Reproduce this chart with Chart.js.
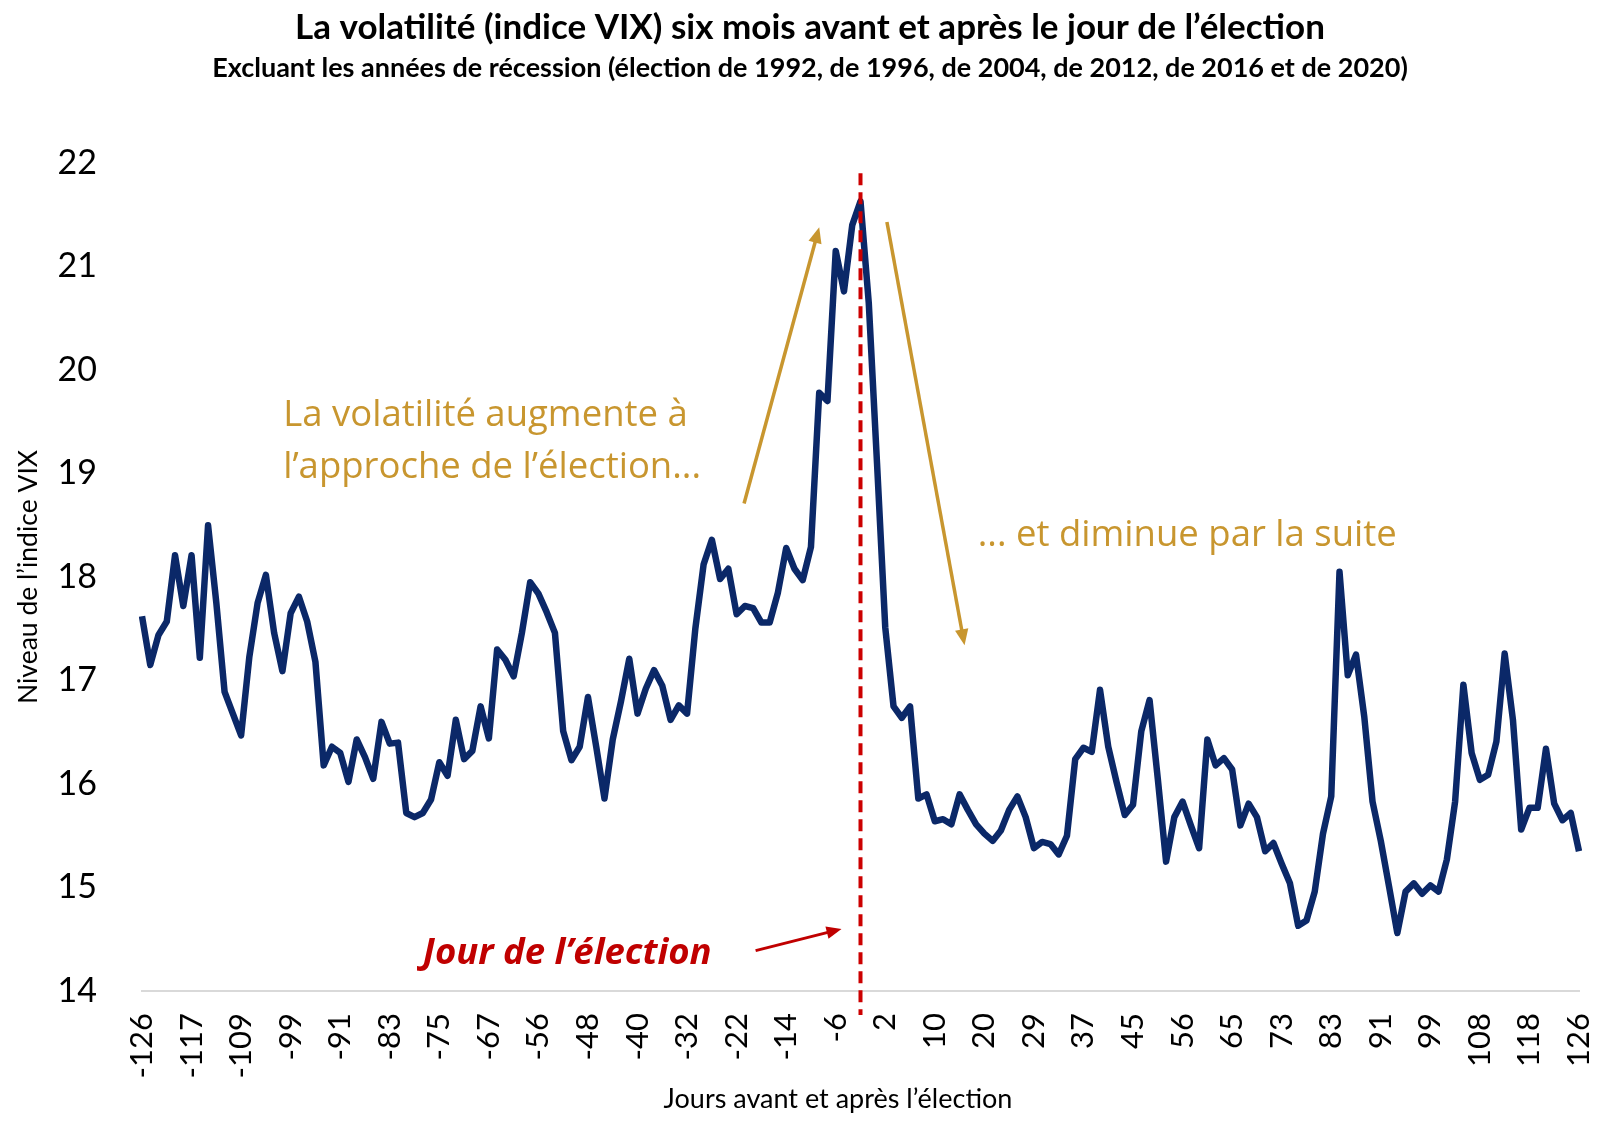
<!DOCTYPE html>
<html lang="fr">
<head>
<meta charset="utf-8">
<title>VIX autour du jour de l'élection</title>
<script src="https://cdn.jsdelivr.net/npm/chart.js@4.4.1/dist/chart.umd.min.js"></script>
<style>
  html, body { margin: 0; padding: 0; background: #ffffff; }
  #wrap { width: 1600px; height: 1137px; }
</style>
</head>
<body>
<div id="wrap"><canvas id="vixChart" width="1600" height="1137"></canvas></div>
<script>
// tick labels shown on the x axis (one every 6 points)
const tickLabels = [
  -126, -117, -109, -99, -91, -83, -75, -67, -56, -48, -40, -32, -22, -14, -6,
  2, 10, 20, 29, 37, 45, 56, 65, 73, 83, 91, 99, 108, 118, 126,
];
const labelEvery = 6;

// average VIX level
const vixLevels = [
  17.62, 17.15, 17.44, 17.57, 18.21, 17.72, 18.21, 17.22, 18.50, 17.75,
  16.89, 16.68, 16.47, 17.23, 17.75, 18.02, 17.46, 17.09, 17.65, 17.81,
  17.57, 17.18, 16.18, 16.36, 16.30, 16.02, 16.43, 16.26, 16.05, 16.60,
  16.39, 16.40, 15.72, 15.68, 15.72, 15.85, 16.21, 16.08, 16.62, 16.24,
  16.32, 16.75, 16.44, 17.30, 17.20, 17.04, 17.46, 17.95, 17.84, 17.66,
  17.46, 16.51, 16.23, 16.36, 16.84, 16.36, 15.86, 16.43, 16.80, 17.21,
  16.68, 16.92, 17.10, 16.95, 16.62, 16.76, 16.68, 17.50, 18.12, 18.36,
  17.98, 18.08, 17.64, 17.72, 17.70, 17.56, 17.56, 17.85, 18.28, 18.08,
  17.97, 18.29, 19.78, 19.70, 21.15, 20.76, 21.40, 21.63, 20.65, 19.10,
  17.51, 16.75, 16.64, 16.75, 15.86, 15.90, 15.64, 15.66, 15.61, 15.90,
  15.75, 15.61, 15.52, 15.45, 15.55, 15.75, 15.88, 15.68, 15.38, 15.44,
  15.42, 15.32, 15.50, 16.24, 16.35, 16.31, 16.91, 16.36, 16.02, 15.70,
  15.80, 16.51, 16.81, 16.05, 15.25, 15.68, 15.83, 15.60, 15.38, 16.43,
  16.18, 16.25, 16.14, 15.60, 15.81, 15.68, 15.35, 15.43, 15.23, 15.04,
  14.63, 14.68, 14.96, 15.52, 15.88, 18.05, 17.05, 17.25, 16.65, 15.83,
  15.45, 15.01, 14.56, 14.96, 15.04, 14.94, 15.02, 14.96, 15.27, 15.83,
  16.96, 16.30, 16.04, 16.09, 16.41, 17.26, 16.62, 15.56, 15.77, 15.77,
  16.34, 15.81, 15.65, 15.72, 15.35,
];
const electionIndex = 87;

const NAVY = "#0b2868";
const GOLD = "#c8962f";
const RED = "#c00000";

// one category per point, only every 6th carries a label
const dayLabels = vixLevels.map((_, i) =>
  i % labelEvery === 0 ? String(tickLabels[i / labelEvery]) : "",
);

function drawArrow(ctx, x1, y1, x2, y2, color, width, head) {
  const ang = Math.atan2(y2 - y1, x2 - x1);
  const c = Math.cos(ang);
  const s = Math.sin(ang);
  ctx.strokeStyle = color;
  ctx.fillStyle = color;
  ctx.lineWidth = width;
  ctx.beginPath();
  ctx.moveTo(x1, y1);
  ctx.lineTo(x2 - head * 0.8 * c, y2 - head * 0.8 * s);
  ctx.stroke();
  ctx.beginPath();
  ctx.moveTo(x2, y2);
  ctx.lineTo(x2 - head * c + head * 0.42 * s, y2 - head * s - head * 0.42 * c);
  ctx.lineTo(x2 - head * c - head * 0.42 * s, y2 - head * s + head * 0.42 * c);
  ctx.closePath();
  ctx.fill();
}

const overlay = {
  id: "overlay",
  afterDatasetsDraw(chart) {
    const { ctx, scales: { x, y } } = chart;
    const ex = x.getPixelForValue(electionIndex);
    ctx.save();
    ctx.strokeStyle = "#cc0000";
    ctx.lineWidth = 4;
    ctx.setLineDash([12, 7]);
    ctx.beginPath();
    ctx.moveTo(ex, y.getPixelForValue(21.9));
    ctx.lineTo(ex, y.bottom + 24);
    ctx.stroke();
    ctx.restore();
  },
  afterDraw(chart) {
    const { ctx, scales: { x, y } } = chart;
    const px = (i) => x.getPixelForValue(i);
    const py = (v) => y.getPixelForValue(v);
    ctx.save();

    // titles
    ctx.fillStyle = "#000";
    ctx.textAlign = "center";
    ctx.textBaseline = "middle";
    ctx.font = "bold 35px Lato";
    ctx.fillText("La volatilité (indice VIX) six mois avant et après le jour de l’élection", 810, 28);
    ctx.font = "bold 27px Lato";
    ctx.fillText("Excluant les années de récession (élection de 1992, de 1996, de 2004, de 2012, de 2016 et de 2020)", 810, 68);

    // axis titles
    ctx.font = "27px Lato";
    ctx.fillText("Jours avant et après l’élection", 838, 1099);
    ctx.save();
    ctx.translate(28, 577);
    ctx.rotate(-Math.PI / 2);
    ctx.font = "26.5px Lato";
    ctx.fillText("Niveau de l’indice VIX", 0, 0);
    ctx.restore();

    // annotations
    ctx.textAlign = "left";
    ctx.fillStyle = GOLD;
    ctx.font = "36.5px 'Open Sans'";
    ctx.fillText("La volatilité augmente à", px(17.1), py(19.56));
    ctx.fillText("l’approche de l’élection...", px(17.1), py(19.06));
    ctx.fillText("... et diminue par la suite", px(101.2), py(18.4));
    ctx.fillStyle = RED;
    ctx.font = "italic bold 36.5px 'Open Sans'";
    ctx.fillText("Jour de l’élection", px(34), py(14.36));

    drawArrow(ctx, px(72.9), py(18.71), px(82.0), py(21.38), GOLD, 3.5, 16);
    drawArrow(ctx, px(90.2), py(21.43), px(99.6), py(17.34), GOLD, 3.5, 16);
    drawArrow(ctx, px(74.3), py(14.39), px(84.7), py(14.6), RED, 3, 15);
    ctx.restore();
  },
};

const canvas = document.getElementById("vixChart");
new Chart(canvas, {
  type: "line",
  data: {
    labels: dayLabels,
    datasets: [
      {
        label: "VIX",
        data: vixLevels,
        borderColor: NAVY,
        borderWidth: 6.5,
        pointRadius: 0,
        tension: 0,
        borderJoinStyle: "round",
      },
    ],
  },
  options: {
    responsive: false,
    animation: false,
    devicePixelRatio: 1,
    layout: { padding: { top: 163, right: 21, bottom: 0, left: 0 } },
    plugins: { legend: { display: false }, tooltip: { enabled: false } },
    scales: {
      x: {
        grid: { display: false, drawTicks: false },
        border: { display: true, color: "#d9d9d9", width: 2 },
        ticks: {
          autoSkip: false,
          minRotation: 90,
          maxRotation: 90,
          padding: 22,
          color: "#000",
          font: { family: "Lato", size: 31 },
        },
        afterFit(scale) {
          scale.height = 146;
          scale.paddingLeft = 0;
          scale.paddingRight = 0;
        },
      },
      y: {
        min: 14,
        max: 22,
        grid: { display: false, drawTicks: false },
        border: { display: false },
        ticks: {
          stepSize: 1,
          padding: 45,
          color: "#000",
          font: { family: "Lato", size: 34 },
        },
        afterFit(scale) {
          scale.width = 142;
        },
      },
    },
  },
  plugins: [overlay],
});
</script>
</body>
</html>
